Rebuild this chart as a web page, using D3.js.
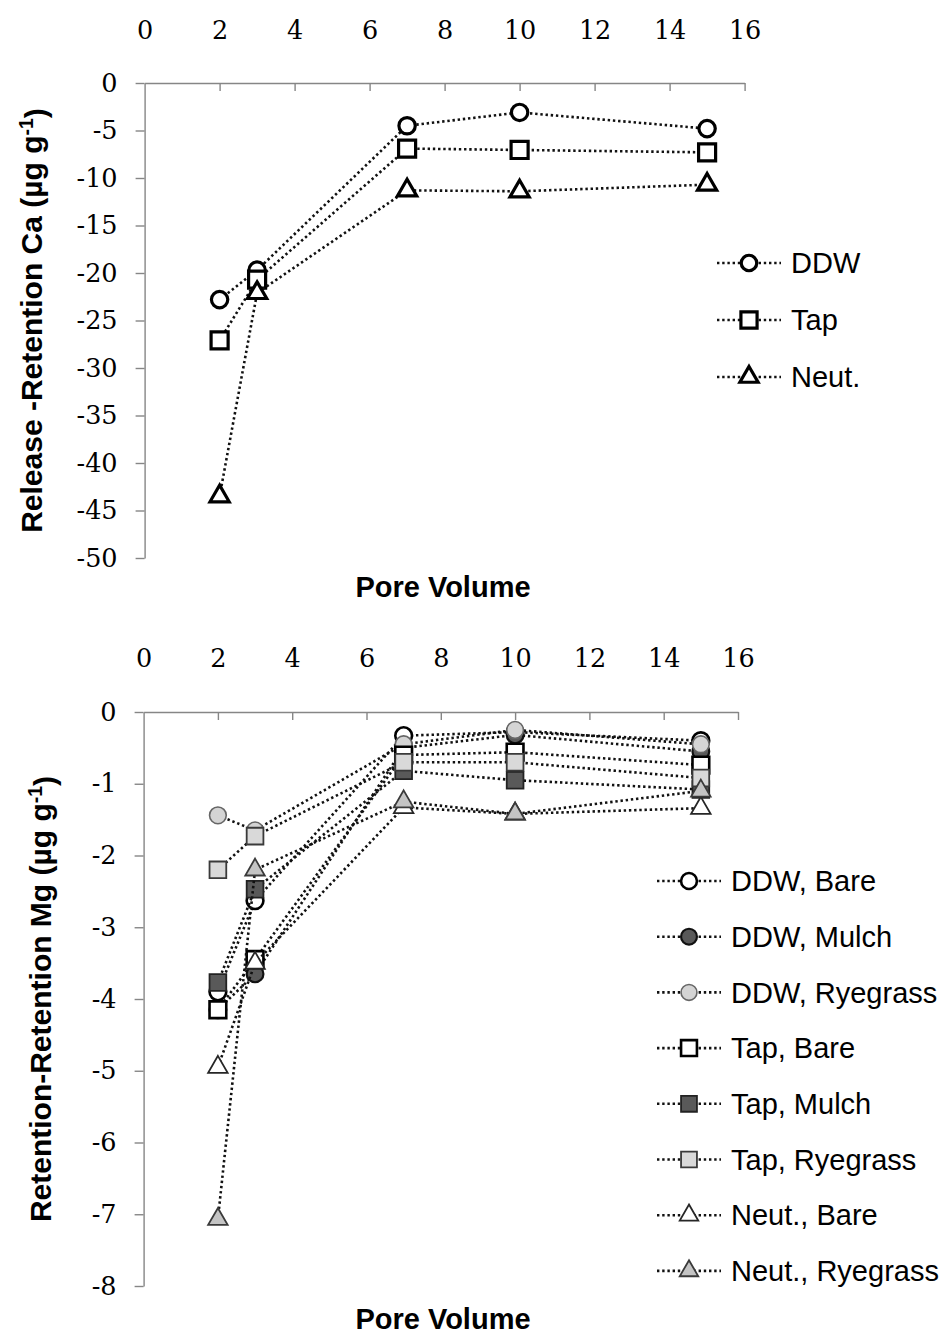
<!DOCTYPE html>
<html><head><meta charset="utf-8">
<script src="https://cdn.jsdelivr.net/npm/d3@7/dist/d3.min.js"></script>
<style>body{margin:0;background:#fff}svg{display:block}</style>
</head><body>
<svg id="c" width="949" height="1337"></svg>
<script>
// ---------- DATA ----------
const poreVolume = [2, 3, 7, 10, 15];
const xTicks = [0, 2, 4, 6, 8, 10, 12, 14, 16];
const caTicks = [0, -5, -10, -15, -20, -25, -30, -35, -40, -45, -50];
const mgTicks = [0, -1, -2, -3, -4, -5, -6, -7, -8];

const caNames = ["DDW", "Tap", "Neut."];
const caDDW  = [-22.8, -19.7, -4.5, -3.1, -4.8];
const caTap  = [-27.1, -20.7, -6.9, -7.05, -7.3];
const caNeut = [-43.5, -22.1, -11.3, -11.4, -10.7];

const mgNames = ["DDW, Bare", "DDW, Mulch", "DDW, Ryegrass", "Tap, Bare", "Tap, Mulch", "Tap, Ryegrass", "Neut., Bare", "Neut., Ryegrass"];
const mgDDWBare   = [-3.9, -2.63, -0.33, -0.28, -0.4];
const mgDDWMulch  = [-4.15, -3.65, -0.5, -0.32, -0.55];
const mgDDWRye    = [-1.44, -1.65, -0.45, -0.25, -0.45];
const mgTapBare   = [-4.15, -3.45, -0.6, -0.56, -0.74];
const mgTapMulch  = [-3.77, -2.47, -0.82, -0.95, -1.08];
const mgTapRye    = [-2.2, -1.73, -0.7, -0.7, -0.92];
const mgNeutBare  = [-4.95, -3.5, -1.33, -1.42, -1.34];
const mgNeutRye   = [-7.07, -2.2, -1.25, -1.42, -1.1];

// ---------- STYLES ----------
const topSeries = [
  {name: caNames[0], vals: caDDW,  shape: d3.symbolCircle,   size: 210, fill: "#fff", stroke: "#000", sw: 3.2},
  {name: caNames[1], vals: caTap,  shape: d3.symbolSquare,   size: 290, fill: "#fff", stroke: "#000", sw: 3.2},
  {name: caNames[2], vals: caNeut, shape: d3.symbolTriangle, size: 160, fill: "#fff", stroke: "#000", sw: 3.2}
];
const botVals = [mgDDWBare, mgDDWMulch, mgDDWRye, mgTapBare, mgTapMulch, mgTapRye, mgNeutBare, mgNeutRye];
const botStyle = [
  {shape: d3.symbolCircle,   size: 220, fill: "#fff",    stroke: "#000",    sw: 2.6},
  {shape: d3.symbolCircle,   size: 220, fill: "#595959", stroke: "#111",    sw: 2.2},
  {shape: d3.symbolCircle,   size: 220, fill: "#d4d4d4", stroke: "#666",    sw: 1.6},
  {shape: d3.symbolSquare,   size: 280, fill: "#fff",    stroke: "#000",    sw: 2.6},
  {shape: d3.symbolSquare,   size: 280, fill: "#595959", stroke: "#222",    sw: 1.8},
  {shape: d3.symbolSquare,   size: 280, fill: "#d9d9d9", stroke: "#3a3a3a", sw: 1.8},
  {shape: d3.symbolTriangle, size: 165, fill: "#fff",    stroke: "#262626", sw: 1.8},
  {shape: d3.symbolTriangle, size: 165, fill: "#c4c4c4", stroke: "#3a3a3a", sw: 1.8}
];
const botSeries = mgNames.map((n, i) => Object.assign({name: n, vals: botVals[i]}, botStyle[i]));

const svg = d3.select("#c");
const axisCol = "#868686";
const tickFont = "'DejaVu Serif', serif";
const sansFont = "'Liberation Sans', Arial, sans-serif";
const dotDash = "2.4,2.8";

function panel(o) {
  const g = svg.append("g");
  const x = d3.scaleLinear().domain([0, 16]).range([o.x0, o.x1]);
  const y = d3.scaleLinear().domain(o.yDomain).range([o.yBottom, o.yTop]);

  // x axis (at y = 0, top), ticks pointing down, labels far above
  const xa = g.append("g").attr("transform", `translate(0,${o.yTop})`)
    .call(d3.axisBottom(x).tickValues(xTicks).tickSize(8).tickSizeOuter(0).tickFormat(d3.format("d")));
  xa.select(".domain").attr("stroke", axisCol).attr("stroke-width", 1.4);
  xa.selectAll(".tick line").attr("stroke", axisCol).attr("stroke-width", 1.4)
    .filter(d => d === 0).remove();
  xa.selectAll(".tick text").attr("y", o.xLabelY - o.yTop).attr("dy", "0.35em")
    .attr("font-family", tickFont).attr("font-size", 25.5).attr("fill", "#000");

  // y axis
  const ya = g.append("g").attr("transform", `translate(${o.x0},0)`)
    .call(d3.axisLeft(y).tickValues(o.yTicks).tickSize(9).tickPadding(18).tickSizeOuter(0).tickFormat(d3.format("d")));
  ya.select(".domain").attr("stroke", axisCol).attr("stroke-width", 1.4);
  ya.selectAll(".tick line").attr("stroke", axisCol).attr("stroke-width", 1.4);
  ya.selectAll(".tick text").attr("font-family", tickFont).attr("font-size", 25.5).attr("fill", "#000")
    .text(d => d < 0 ? "-" + Math.abs(d) : d);

  // series
  const line = d3.line().x((d, i) => x(poreVolume[i])).y(d => y(d));
  o.series.forEach(s => {
    g.append("path").attr("d", line(s.vals)).attr("fill", "none")
      .attr("stroke", "#111").attr("stroke-width", 2.6).attr("stroke-dasharray", dotDash);
    g.selectAll(null).data(s.vals).join("path")
      .attr("transform", (d, i) => `translate(${x(poreVolume[i])},${y(d)})`)
      .attr("d", d3.symbol().type(s.shape).size(s.size))
      .attr("fill", s.fill).attr("stroke", s.stroke).attr("stroke-width", s.sw);
  });

  // axis titles
  g.append("text").attr("x", o.xTitleX).attr("y", o.xTitleY).attr("text-anchor", "middle")
    .attr("font-family", sansFont).attr("font-weight", "bold").attr("font-size", 29)
    .attr("dy", "0.35em").text("Pore Volume");
  const yt = g.append("text").attr("transform", `translate(${o.yTitleX},${(o.yTop + o.yBottom) / 2}) rotate(-90)`)
    .attr("text-anchor", "middle").attr("font-family", sansFont).attr("font-weight", "bold")
    .attr("font-size", o.yTitleSize).attr("dy", "0.35em");
  yt.append("tspan").text(o.yTitle + " (µg g");
  yt.append("tspan").attr("dy", "-0.45em").attr("font-size", o.yTitleSize * 0.65).text("-1");
  yt.append("tspan").attr("dy", "0.45em").text(")");

  // legend
  const lg = g.append("g");
  o.series.forEach((s, i) => {
    const ly = o.legY + i * o.legStep;
    lg.append("line").attr("x1", o.legX).attr("x2", o.legX + o.legLine).attr("y1", ly).attr("y2", ly)
      .attr("stroke", "#111").attr("stroke-width", 2.6).attr("stroke-dasharray", dotDash);
    lg.append("path").attr("transform", `translate(${o.legX + o.legLine / 2},${ly})`)
      .attr("d", d3.symbol().type(s.shape).size(s.size * 0.9))
      .attr("fill", s.fill).attr("stroke", s.stroke).attr("stroke-width", s.sw);
    lg.append("text").attr("x", o.legX + o.legLine + 10).attr("y", ly).attr("dy", "0.35em")
      .attr("font-family", sansFont).attr("font-size", 29).attr("fill", "#000").text(s.name);
  });
}

panel({
  x0: 144.6, x1: 744.6, yTop: 83, yBottom: 558, yDomain: [-50, 0], yTicks: caTicks,
  xLabelY: 30, series: topSeries, xTitleX: 443, xTitleY: 587,
  yTitle: "Release -Retention Ca", yTitleX: 31, yTitleSize: 30,
  legX: 717, legLine: 64, legY: 263, legStep: 57
});
panel({
  x0: 143.6, x1: 738, yTop: 712, yBottom: 1286, yDomain: [-8, 0], yTicks: mgTicks,
  xLabelY: 658, series: botSeries, xTitleX: 443, xTitleY: 1319,
  yTitle: "Retention-Retention Mg", yTitleX: 40, yTitleSize: 30,
  legX: 657, legLine: 64, legY: 881, legStep: 55.7
});
</script>
</body></html>
